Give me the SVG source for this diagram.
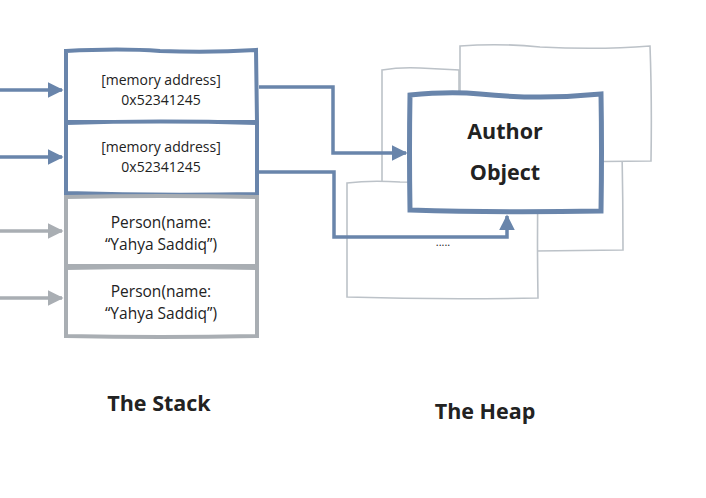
<svg xmlns="http://www.w3.org/2000/svg" width="706" height="498" viewBox="0 0 706 498">
<style>
.blue{fill:#fff;stroke:#6985ab;stroke-width:4}
.gray{fill:#fff;stroke:#a9aeb3;stroke-width:4}
.heap{fill:#fff;stroke:#bcc2c8;stroke-width:1.6}
.auth{fill:#fff;stroke:#6985ab;stroke-width:5}
.t{font-family:"Open Sans","Liberation Sans",sans-serif;fill:#222;text-anchor:middle}
.s{font-size:14px}
.p{font-size:15.5px}
.b{font-weight:bold;font-size:21.5px}
.cb{fill:none;stroke:#6985ab;stroke-width:3.5}
.cg{fill:none;stroke:#a9aeb3;stroke-width:3.5}
</style>
<defs>
<marker id="ab" viewBox="0 0 10 10" refX="9" refY="5" markerWidth="4.5" markerHeight="4.5" orient="auto" markerUnits="strokeWidth"><path d="M0,0 L10,5 L0,10 z" fill="#6985ab"/></marker>
<marker id="ag" viewBox="0 0 10 10" refX="9" refY="5" markerWidth="4.5" markerHeight="4.5" orient="auto" markerUnits="strokeWidth"><path d="M0,0 L10,5 L0,10 z" fill="#a9aeb3"/></marker>
</defs>
<rect width="706" height="498" fill="#fff"/>
<g id="heap-bg">
<path class="heap" d="M382,70 Q400,67 420,68 L459,70 L459,187 L382,187 Z"/>
<path class="heap" d="M480,150 L622,150 Q623,200 623,250 L535,251 L480,251 Z"/>
<path class="heap" d="M460,46 Q500,43 540,47 Q600,50 650,46 Q652,100 651,161 L460,163 Z"/>
<path class="heap" d="M347,183 Q370,180 400,182 L538,183 Q537,240 538,298 Q440,300 347,297 Z"/>
</g>
<g id="stack-box-1"><path class="blue" d="M66,51 Q120,48 160,51 Q210,53 256,50 L257,122 L66,122 Z"/>
<text class="t s" x="161" y="85">[memory address]</text><text class="t s" x="161" y="105">0x52341245</text></g>
<g id="stack-box-2"><path class="blue" d="M66,123 Q160,120 257,123 L257,194 Q160,196 66,193 Z"/>
<text class="t s" x="161" y="152">[memory address]</text><text class="t s" x="161" y="172">0x52341245</text></g>
<g id="stack-box-3"><path class="gray" d="M66,197 Q160,195 257,197 L257,266 L66,266 Z"/>
<text class="t p" x="161" y="228">Person(name:</text><text class="t p" x="161" y="250">“Yahya Saddiq”)</text></g>
<g id="stack-box-4"><path class="gray" d="M66,268 Q160,266 257,268 L257,336 Q160,338 66,336 Z"/>
<text class="t p" x="161" y="297">Person(name:</text><text class="t p" x="161" y="319">“Yahya Saddiq”)</text></g>
<g id="author-object"><path class="auth" d="M410,95 Q450,91 480,94 Q540,100 601,94 Q602,150 601,211 Q500,213 410,210 Q409,150 410,95 Z"/>
<text class="t b" x="505" y="139">Author</text><text class="t b" x="505" y="180">Object</text></g>
<g id="heap-dots"><text class="t" x="443" y="246" font-size="11">.....</text></g>
<g id="connectors">
<path class="cb" d="M0,90 L62,90" marker-end="url(#ab)"/>
<path class="cb" d="M0,157 L62,157" marker-end="url(#ab)"/>
<path class="cg" d="M0,231 L62,231" marker-end="url(#ag)"/>
<path class="cg" d="M0,298 L62,298" marker-end="url(#ag)"/>
<path class="cb" d="M259,87 L333,87 L333,153 L406,153" marker-end="url(#ab)"/>
<path class="cb" d="M259,172 L334,172 L334,237 L507,237 L507,216" marker-end="url(#ab)"/>
</g>
<g id="labels">
<text class="t b" x="159" y="411">The Stack</text>
<text class="t b" x="485" y="419">The Heap</text>
</g>
</svg>
